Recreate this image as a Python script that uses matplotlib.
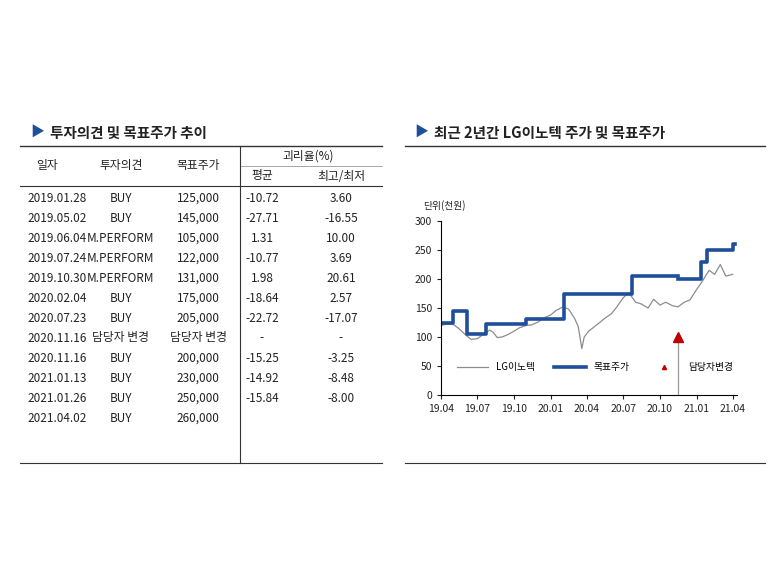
import matplotlib
matplotlib.use("Agg")
import matplotlib.pyplot as plt
import matplotlib.dates as mdates
from matplotlib.lines import Line2D
import pandas as pd

plt.rcParams["font.family"] = "Noto Sans CJK KR"

# table data
t_dates = ["2019.01.28", "2019.05.02", "2019.06.04", "2019.07.24", "2019.10.30", "2020.02.04",
           "2020.07.23", "2020.11.16", "2020.11.16", "2021.01.13", "2021.01.26", "2021.04.02"]
t_opinion = ["BUY", "BUY", "M.PERFORM", "M.PERFORM", "M.PERFORM", "BUY",
             "BUY", "담당자 변경", "BUY", "BUY", "BUY", "BUY"]
t_target = ["125,000", "145,000", "105,000", "122,000", "131,000", "175,000",
            "205,000", "담당자 변경", "200,000", "230,000", "250,000", "260,000"]
t_avg = ["-10.72", "-27.71", "1.31", "-10.77", "1.98", "-18.64", "-22.72", "-", "-15.25", "-14.92", "-15.84", ""]
t_maxmin = ["3.60", "-16.55", "10.00", "3.69", "20.61", "2.57", "-17.07", "-", "-3.25", "-8.48", "-8.00", ""]

# chart data
price_dates = ["2019-04-01", "2019-04-15", "2019-05-01", "2019-05-15", "2019-06-01", "2019-06-15",
               "2019-07-01", "2019-07-15", "2019-08-01", "2019-08-10", "2019-08-20", "2019-09-01",
               "2019-09-15", "2019-10-01", "2019-10-15", "2019-11-01", "2019-11-15", "2019-12-01",
               "2019-12-15", "2020-01-01", "2020-01-15", "2020-02-01", "2020-02-15", "2020-03-01",
               "2020-03-10", "2020-03-19", "2020-03-25", "2020-04-05", "2020-04-20", "2020-05-01",
               "2020-05-15", "2020-06-01", "2020-06-15", "2020-07-01", "2020-07-15", "2020-08-01",
               "2020-08-15", "2020-09-01", "2020-09-15", "2020-10-01", "2020-10-15", "2020-11-01",
               "2020-11-15", "2020-12-01", "2020-12-15", "2021-01-01", "2021-01-15", "2021-02-01",
               "2021-02-15", "2021-03-01", "2021-03-15", "2021-04-01"]
price = [120, 122, 122, 115, 104, 96, 97, 104, 112, 108, 99, 100,
         104, 110, 116, 120, 121, 126, 133, 138, 146, 152, 148, 132,
         118, 80, 100, 110, 118, 124, 132, 140, 152, 168, 176, 160,
         157, 150, 165, 155, 160, 154, 152, 160, 164, 182, 196, 215,
         208, 225, 205, 208]
target_dates = ["2019-04-01", "2019-05-02", "2019-06-04", "2019-07-24", "2019-10-30", "2020-02-04",
                "2020-07-23", "2020-11-16", "2021-01-13", "2021-01-26", "2021-04-02", "2021-04-08"]
target = [125, 145, 105, 122, 131, 175, 205, 200, 230, 250, 260, 260]
change_date = "2020-11-16"
change_level = 100
x_ticks = ["2019-04-01", "2019-07-01", "2019-10-01", "2020-01-01", "2020-04-01",
           "2020-07-01", "2020-10-01", "2021-01-01", "2021-04-01"]
x_labels = ["19.04", "19.07", "19.10", "20.01", "20.04", "20.07", "20.10", "21.01", "21.04"]

W, H = 780, 585
fig = plt.figure(figsize=(W / 100, H / 100), dpi=100)


def fx(x):
    return x / W


def fy(y):
    return 1 - y / H


def hline(y, x0, x1, color="#333333", lw=0.8):
    fig.add_artist(Line2D([fx(x0), fx(x1)], [fy(y), fy(y)], color=color, lw=lw))


def vline(x, y0, y1, color="#333333", lw=0.8):
    fig.add_artist(Line2D([fx(x), fx(x)], [fy(y0), fy(y1)], color=color, lw=lw))


def txt(x, y, s, ha="center", size=8.5, **kw):
    fig.text(fx(x), fy(y), s, ha=ha, va="center", fontsize=size, color="#222222", **kw)


blue = "#1f4e9a"
# titles
txt(30, 133, "▶", ha="left", size=10, color=blue) if False else fig.text(fx(30), fy(133), "▶", ha="left", va="center", fontsize=10, color=blue)
txt(50, 133, "투자의견 및 목표주가 추이", ha="left", size=10.5, fontweight="bold")
fig.text(fx(414), fy(133), "▶", ha="left", va="center", fontsize=10, color=blue)
txt(434, 133, "최근 2년간 LG이노텍 주가 및 목표주가", ha="left", size=10.5, fontweight="bold")

# table frame
hline(146, 20, 382, lw=1.0)
hline(166, 240, 382, color="#999999", lw=0.6)
hline(186, 20, 382, lw=0.8)
hline(463, 20, 382, lw=0.8)
vline(240, 146, 463, lw=0.8)
hline(146, 405, 765, lw=1.0)
hline(463, 405, 765, lw=0.8)

txt(47, 166, "일자")
txt(121, 166, "투자의견")
txt(198, 166, "목표주가")
txt(308, 156, "괴리율(%)")
txt(262, 176, "평균")
txt(341, 176, "최고/최저")

for i in range(len(t_dates)):
    y = 198 + 20 * i
    txt(27, y, t_dates[i], ha="left")
    txt(121, y, t_opinion[i])
    txt(198, y, t_target[i])
    txt(262, y, t_avg[i])
    txt(341, y, t_maxmin[i])

# chart
ax = fig.add_axes([fx(441), fy(395), fx(737 - 441), (395 - 221) / H])
pdates = pd.to_datetime(price_dates)
tdates = pd.to_datetime(target_dates)
ax.plot(pdates, price, color="#8c8c8c", lw=0.9, label="LG이노텍")
cut = target_dates.index(change_date)
ax.plot(tdates[:cut + 1], target[:cut] + [target[cut - 1]], drawstyle="steps-post",
        color=blue, lw=2.6, label="목표주가")
ax.plot(tdates[cut:], target[cut:], drawstyle="steps-post", color=blue, lw=2.6)
cd = pd.to_datetime(change_date)
ax.plot([cd, cd], [0, change_level], color="#999999", lw=0.9)
ax.plot([cd], [change_level], marker="^", color="#c00000", ms=7, ls="none")
ax.plot([], [], marker="^", color="#c00000", ms=3, ls="none", label="담당자변경")

ax.set_xlim(pd.to_datetime("2019-04-01"), pd.to_datetime("2021-04-12"))
ax.set_ylim(0, 300)
ax.set_yticks(range(0, 301, 50))
ax.set_xticks(pd.to_datetime(x_ticks))
ax.set_xticklabels(x_labels)
ax.tick_params(labelsize=7.5, length=3, colors="#222222")
for s in ["top", "right"]:
    ax.spines[s].set_visible(False)
ax.text(-0.06, 1.07, "단위(천원)", transform=ax.transAxes, fontsize=7, ha="left", color="#222222")
ax.legend(loc="lower center", bbox_to_anchor=(0.52, 0.08), ncol=3, frameon=False,
          fontsize=7, handlelength=3.2, columnspacing=2.0)

fig.savefig("out.png", dpi=100)
